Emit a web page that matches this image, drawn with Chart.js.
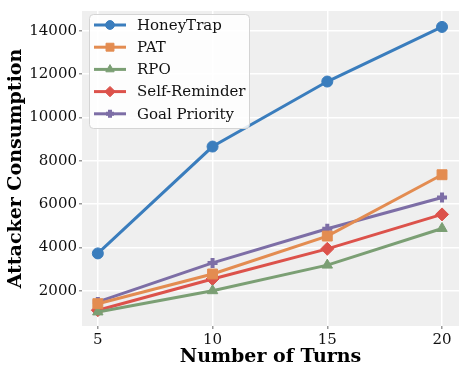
<!DOCTYPE html>
<html>
<head>
<meta charset="utf-8">
<script src="https://cdn.jsdelivr.net/npm/chart.js@4"></script>
<style>
  html, body { margin: 0; padding: 0; background: #fff; }
  #wrap { width: 468px; height: 375px; }
</style>
</head>
<body>
<div id="wrap"><canvas id="chart" width="468" height="375"></canvas></div>
<script>
// data
const turns = [5, 10, 15, 20];
const honeyTrap = [3720, 8650, 11650, 14170];
const pat = [1400, 2770, 4520, 7350];
const rpo = [1020, 2000, 3180, 4870];
const selfReminder = [1100, 2540, 3930, 5520];
const goalPriority = [1480, 3280, 4860, 6300];
const xTicks = [5, 10, 15, 20];
const yTicks = [2000, 4000, 6000, 8000, 10000, 12000, 14000];

const SERIF = "'DejaVu Serif', serif";

function series(label, values, color, style, radius, bw) {
    return {
        label: label,
        data: turns.map((t, i) => ({x: t, y: values[i]})),
        borderColor: color,
        backgroundColor: color,
        borderWidth: 3,
        pointStyle: style,
        pointRadius: radius,
        pointHoverRadius: radius,
        pointBorderWidth: bw,
        pointBackgroundColor: color,
        pointBorderColor: color
    };
}

const plotBg = {
    id: 'plotBg',
    beforeDraw(chart) {
        const a = chart.chartArea, ctx = chart.ctx;
        ctx.save();
        ctx.fillStyle = '#efefef';
        ctx.fillRect(a.left, a.top, a.right - a.left, a.bottom - a.top);
        ctx.restore();
    }
};

// legend drawn as line + marker like the reference
const lineLegend = {
    id: 'lineLegend',
    afterDraw(chart) {
        const ctx = chart.ctx;
        const x0 = 89, y0 = 14, w = 160, h = 114, rowH = 22.2;
        ctx.save();
        ctx.beginPath();
        ctx.roundRect(x0 + 0.5, y0 + 0.5, w, h, 4);
        ctx.fillStyle = 'rgba(255,255,255,0.85)';
        ctx.fill();
        ctx.strokeStyle = '#d4d4d4';
        ctx.lineWidth = 1;
        ctx.stroke();
        chart.data.datasets.forEach((ds, i) => {
            const cy = y0 + 11 + i * rowH;
            ctx.beginPath();
            ctx.strokeStyle = ds.borderColor;
            ctx.lineWidth = 3;
            ctx.moveTo(94, cy);
            ctx.lineTo(126, cy);
            ctx.stroke();
            ctx.fillStyle = ds.borderColor;
            ctx.strokeStyle = ds.borderColor;
            ctx.lineWidth = ds.pointBorderWidth;
            Chart.helpers.drawPoint(ctx, {
                pointStyle: ds.pointStyle,
                radius: ds.pointRadius * 0.8,
                rotation: 0,
                borderWidth: ds.pointBorderWidth
            }, 110, cy);
            ctx.fillStyle = '#111';
            ctx.font = '15px ' + SERIF;
            ctx.textBaseline = 'middle';
            ctx.textAlign = 'left';
            ctx.fillText(ds.label, 137, cy + 1);
        });
        ctx.restore();
    }
};

const ctx = document.getElementById('chart').getContext('2d');
new Chart(ctx, {
    type: 'line',
    data: {
        datasets: [
            series('HoneyTrap', honeyTrap, '#3a7dbd', 'circle', 5.5, 1),
            series('PAT', pat, '#e38c51', 'rect', 7, 1),
            series('RPO', rpo, '#7b9f74', 'triangle', 6, 1),
            series('Self-Reminder', selfReminder, '#dc524b', 'rectRot', 6.5, 1),
            series('Goal Priority', goalPriority, '#7d6ea6', 'cross', 5, 4)
        ]
    },
    options: {
        responsive: false,
        animation: false,
        layout: { padding: { left: 0, right: 7, top: 7, bottom: 0 } },
        plugins: {
            legend: { display: false },
            tooltip: { enabled: false }
        },
        scales: {
            x: {
                type: 'linear',
                min: 4.31,
                max: 20.74,
                afterBuildTicks: s => { s.ticks = xTicks.map(v => ({value: v})); },
                afterFit: s => { s.height = 49; },
                grid: { color: '#ffffff', lineWidth: 1.5, tickColor: '#999', tickLength: 3 },
                border: { display: false },
                ticks: { color: '#111', font: { family: SERIF, size: 15 }, padding: 2, maxRotation: 0,
                         callback: v => String(v) },
                title: {
                    display: true,
                    text: 'Number of Turns',
                    color: '#000',
                    font: { family: SERIF, size: 19, weight: 'bold' },
                    padding: { top: 0, bottom: 7 }
                }
            },
            y: {
                min: 370,
                max: 14905,
                afterBuildTicks: s => { s.ticks = yTicks.map(v => ({value: v})); },
                afterFit: s => { s.width = 82; },
                grid: { color: '#ffffff', lineWidth: 1.5, tickColor: '#999', tickLength: 3 },
                border: { display: false },
                ticks: { color: '#111', font: { family: SERIF, size: 15 }, padding: 2,
                         callback: v => String(v) },
                title: {
                    display: true,
                    text: 'Attacker Consumption',
                    color: '#000',
                    font: { family: SERIF, size: 19, weight: 'bold' },
                    padding: { top: 5, bottom: 0 }
                }
            }
        }
    },
    plugins: [plotBg, lineLegend]
});
</script>
</body>
</html>
